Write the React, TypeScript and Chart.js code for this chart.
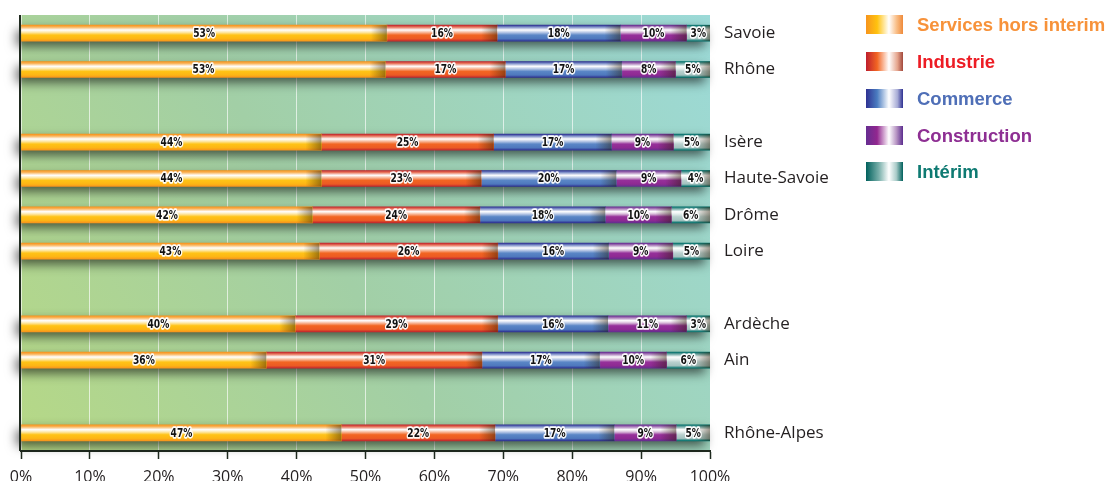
import React, { useEffect, useRef } from "react";
import { Chart, registerables } from "chart.js";

Chart.register(...registerables);

const categories = ["Savoie", "Rhône", "", "Isère", "Haute-Savoie", "Drôme", "Loire", "", "Ardèche", "Ain", "", "Rhône-Alpes"];
const servicesHorsInterim = [53.1, 52.9, null, 43.6, 43.6, 42.3, 43.3, null, 39.8, 35.6, null, 46.5];
const industrie = [16.0, 17.4, null, 25.0, 23.2, 24.3, 25.9, null, 29.4, 31.3, null, 22.3];
const commerce = [17.9, 16.9, null, 17.1, 19.6, 18.2, 16.1, null, 16.0, 17.1, null, 17.3];
const construction = [9.6, 7.8, null, 9.0, 9.4, 9.6, 9.3, null, 11.4, 9.7, null, 9.0];
const interim = [3.4, 5.0, null, 5.3, 4.2, 5.6, 5.4, null, 3.4, 6.3, null, 4.9];
const seriesNames = ["Services hors interim", "Industrie", "Commerce", "Construction", "Intérim"];
const xTicks = [0, 10, 20, 30, 40, 50, 60, 70, 80, 90, 100];

type Stop = [number, string];
const barStops: Stop[][] = [
  [[0, "#f7941d"], [0.12, "#f9b45a"], [0.3, "#ffffff"], [0.45, "#fde7a6"], [0.62, "#ffc316"], [0.85, "#fdb515"], [1, "#f7941d"]],
  [[0, "#c1272d"], [0.12, "#e8735a"], [0.3, "#ffffff"], [0.45, "#f8b89a"], [0.62, "#f26522"], [0.85, "#ec5a24"], [1, "#c1272d"]],
  [[0, "#2e3192"], [0.12, "#7d8fc8"], [0.3, "#ffffff"], [0.45, "#b8c8e6"], [0.62, "#5a86c6"], [0.85, "#4e78bd"], [1, "#2e3192"]],
  [[0, "#662d91"], [0.12, "#a87ab8"], [0.3, "#ffffff"], [0.45, "#d7b9d8"], [0.62, "#96309a"], [0.85, "#8e2a92"], [1, "#662d91"]],
  [[0, "#00706b"], [0.12, "#6fa8a4"], [0.3, "#ffffff"], [0.45, "#e4eeed"], [0.62, "#b9d0ce"], [0.85, "#a3c2bf"], [1, "#00706b"]],
];
const swatchStops: Stop[][] = [
  [[0, "#f7941d"], [0.3, "#ffc20e"], [0.62, "#ffffff"], [0.82, "#f9c08a"], [1, "#ef8a3a"]],
  [[0, "#be1e2d"], [0.3, "#f26522"], [0.62, "#ffffff"], [0.85, "#e5a48c"], [1, "#a2483c"]],
  [[0, "#2e3192"], [0.3, "#4a7cc0"], [0.62, "#ffffff"], [0.85, "#a8acd6"], [1, "#2e3192"]],
  [[0, "#662d91"], [0.3, "#92278f"], [0.62, "#ffffff"], [0.82, "#b896c4"], [1, "#5c2d8e"]],
  [[0, "#00605c"], [0.35, "#7ab0ab"], [0.62, "#ffffff"], [0.82, "#a9cbc8"], [1, "#00605c"]],
];
const legendColors = ["#f7923a", "#ed1c24", "#4f6fb7", "#8e2f93", "#0e7a72"];
const baseColors = ["#ffc20e", "#f26522", "#4a7cc0", "#92278f", "#a3c2bf"];

const BAR_H = 16;

function makeBg(i: number) {
  return (ctx: any) => {
    const chart = ctx.chart;
    if (!chart.chartArea || !chart.scales.y) return baseColors[i];
    const yc = chart.scales.y.getPixelForValue(ctx.dataIndex);
    const g = chart.ctx.createLinearGradient(0, yc - BAR_H / 2, 0, yc + BAR_H / 2);
    barStops[i].forEach(([o, c]) => g.addColorStop(o, c));
    return g;
  };
}

const bgPlugin = {
  id: "bgPlugin",
  beforeDraw(chart: any) {
    const { ctx, chartArea: a } = chart;
    const g = ctx.createLinearGradient(a.left, a.bottom, a.right, a.top);
    g.addColorStop(0, "#b6d886");
    g.addColorStop(0.45, "#a2cfa6");
    g.addColorStop(1, "#9cdad8");
    ctx.save();
    ctx.fillStyle = g;
    ctx.fillRect(a.left, a.top, a.right - a.left, a.bottom - a.top);
    ctx.restore();
  },
  beforeDatasetsDraw(chart: any) {
    const { ctx } = chart;
    const first = chart.getDatasetMeta(0).data;
    const last = chart.getDatasetMeta(chart.data.datasets.length - 1).data;
    ctx.save();
    first.forEach((el: any, i: number) => {
      const v = chart.data.datasets[0].data[i];
      if (v == null) return;
      const endEl = last[i];
      const x0 = el.base;
      const x1 = endEl.x;
      const h = el.height;
      const off = 3000;
      ctx.shadowColor = "rgba(0,0,0,0.6)";
      ctx.shadowBlur = 11;
      ctx.shadowOffsetX = off - 5;
      ctx.shadowOffsetY = 5;
      ctx.fillStyle = "#000";
      ctx.fillRect(x0 - off, el.y - h / 2, x1 - x0, h);
    });
    ctx.restore();
  },
  afterDatasetsDraw(chart: any) {
    const { ctx, chartArea: a } = chart;
    chart.data.datasets.forEach((ds: any, di: number) => {
      const meta = chart.getDatasetMeta(di);
      meta.data.forEach((el: any, i: number) => {
        const v = ds.data[i];
        if (v == null) return;
        const left = Math.min(el.base, el.x);
        const right = Math.max(el.base, el.x);
        const top = el.y - el.height / 2;
        const w = right - left;
        const dw = Math.min(16, w * 0.4);
        const g = ctx.createLinearGradient(right - dw, 0, right, 0);
        g.addColorStop(0, "rgba(40,25,0,0)");
        g.addColorStop(1, "rgba(40,25,0,0.45)");
        ctx.save();
        ctx.fillStyle = g;
        ctx.fillRect(right - dw, top, dw, el.height);
        ctx.restore();
      });
    });
    // value labels
    chart.data.datasets.forEach((ds: any, di: number) => {
      const meta = chart.getDatasetMeta(di);
      meta.data.forEach((el: any, i: number) => {
        const v = ds.data[i];
        if (v == null) return;
        const cx = (el.base + el.x) / 2;
        const txt = Math.round(v) + "%";
        ctx.save();
        ctx.translate(cx, el.y + 0.5);
        ctx.scale(0.7, 1);
        ctx.font = "bold 13px 'DejaVu Sans'";
        ctx.textAlign = "center";
        ctx.textBaseline = "middle";
        ctx.lineJoin = "round";
        ctx.lineWidth = 3.5;
        ctx.strokeStyle = "rgba(255,255,255,0.95)";
        ctx.strokeText(txt, 0, 0);
        ctx.fillStyle = "#111";
        ctx.fillText(txt, 0, 0);
        ctx.restore();
      });
    });
    // left axis line
    ctx.save();
    ctx.strokeStyle = "#1f2a1f";
    ctx.lineWidth = 2;
    ctx.beginPath();
    ctx.moveTo(a.left - 1, a.top);
    ctx.lineTo(a.left - 1, a.bottom);
    ctx.stroke();
    ctx.restore();
  },
  afterDraw(chart: any) {
    const { ctx } = chart;
    const x0 = 866;
    const rowsY = [24.5, 61.5, 98.5, 135.5, 171.5];
    ctx.save();
    seriesNames.forEach((name, i) => {
      const yc = rowsY[i];
      const g = ctx.createLinearGradient(x0, 0, x0 + 37, 0);
      swatchStops[i].forEach(([o, c]) => g.addColorStop(o, c));
      ctx.fillStyle = g;
      ctx.fillRect(x0, yc - 9.5, 37, 19);
      ctx.font = "bold 18.5px 'Liberation Sans', Arial, sans-serif";
      ctx.textAlign = "left";
      ctx.textBaseline = "middle";
      ctx.fillStyle = legendColors[i];
      ctx.fillText(name, 917, yc + 1);
    });
    ctx.restore();
  },
};

export default function App() {
  const ref = useRef<HTMLCanvasElement>(null);
  useEffect(() => {
    if (!ref.current) return;
    const series = [servicesHorsInterim, industrie, commerce, construction, interim];
    const chart = new Chart(ref.current, {
      type: "bar",
      data: {
        labels: categories,
        datasets: series.map((d, i) => ({
          label: seriesNames[i],
          data: d,
          backgroundColor: makeBg(i),
          borderWidth: 0,
          barThickness: BAR_H,
        })),
      },
      options: {
        indexAxis: "y",
        responsive: false,
        animation: false,
        layout: { padding: { top: 15, left: 21, right: 0, bottom: 0 } },
        plugins: { legend: { display: false }, tooltip: { enabled: false } },
        scales: {
          x: {
            stacked: true,
            min: 0,
            max: 100,
            afterFit: (s: any) => { s.height = 30; s.paddingLeft = 0; s.paddingRight = 0; },
            afterBuildTicks: (s: any) => { s.ticks = xTicks.map((v) => ({ value: v })); },
            ticks: {
              callback: (v: any) => v + "%",
              color: "#231f20",
              font: { family: "'Open Sans', sans-serif", size: 16 },
              padding: 9,
              maxRotation: 0,
            },
            grid: {
              color: "rgba(255,255,255,0.65)",
              lineWidth: 1,
              tickColor: "#1f2a1f",
              tickLength: 8,
              tickWidth: 1.5,
            },
            border: { display: true, color: "#1f2a1f", width: 2 },
          },
          y: {
            stacked: true,
            position: "right",
            afterFit: (s: any) => { s.width = 400; s.paddingTop = 0; s.paddingBottom = 0; },
            ticks: {
              color: "#231f20",
              font: { family: "'Open Sans', sans-serif", size: 17 },
              padding: 14,
              autoSkip: false,
            },
            grid: { display: false, drawTicks: false },
            border: { display: false },
          },
        },
      },
      plugins: [bgPlugin],
    } as any);
    return () => chart.destroy();
  }, []);
  return (
    <div style={{ position: "absolute", left: 0, top: 0, width: 1110, height: 481, background: "#fff" }}>
      <canvas ref={ref} width={1110} height={481} style={{ width: 1110, height: 481, display: "block" }} />
    </div>
  );
}
